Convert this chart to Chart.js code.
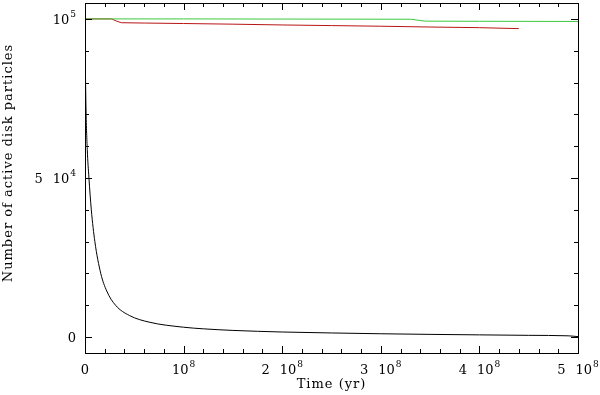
<!DOCTYPE html>
<html lang="en">
<head>
    <meta charset="UTF-8">
    <title>Active disk particles</title>
    <script src="https://cdn.jsdelivr.net/npm/chart.js"></script>
    <style>
        html, body { margin: 0; padding: 0; background: #fff; }
        #wrap { position: relative; width: 600px; height: 395px; }
    </style>
</head>
<body>
    <div id="wrap"><canvas id="particlesChart"></canvas></div>

    <script>
        // Number of active disk particles vs time (yr)
        const blackTime = [0, 3e5, 1e6, 2.3e6, 4e6, 6.4e6, 1e7, 1.6e7, 2.2e7, 3.1e7, 4.5e7, 6.5e7,
                           1e8, 1.2e8, 1.5e8, 2e8, 2.5e8, 3e8, 3.5e8, 4e8, 4.5e8, 4.9e8, 5e8];
        const blackCount = [100000, 88000, 72000, 59000, 50000, 40000, 30000, 20000, 14500, 10000, 6800, 4700,
                            3100, 2600, 2100, 1600, 1300, 1050, 850, 700, 550, 400, 150];

        const greenTime = [0, 1e8, 2e8, 3.3e8, 3.45e8, 4e8, 5e8];
        const greenCount = [100000, 100000, 99950, 99900, 99300, 99250, 99200];

        const redTime = [0, 2.7e7, 3.2e7, 3.7e7, 6e7, 1e8, 1.5e8, 2e8, 2.5e8, 3e8, 3.5e8, 4e8, 4.4e8];
        const redCount = [100000, 100000, 99300, 98800, 98700, 98550, 98350, 98100, 97900, 97700, 97450, 97250, 96950];

        const xTickValues = [0, 1e8, 2e8, 3e8, 4e8, 5e8];
        const xTickLabels = ["0", "10^8", "2 10^8", "3 10^8", "4 10^8", "5 10^8"];
        const yTickValues = [0, 5e4, 1e5];
        const yTickLabels = ["0", "5 10^4", "10^5"];

        const xTitle = "Time (yr)";
        const yTitle = "Number of active disk particles";

        function toPoints(xs, ys) {
            return xs.map((x, i) => ({ x: x, y: ys[i] }));
        }

        const FONT = '"DejaVu Serif", serif';

        function labelWidth(ctx, label) {
            let w = 0;
            const parts = label.split(" ");
            parts.forEach((p, i) => {
                const [base, sup] = p.split("^");
                ctx.font = "13px " + FONT;
                w += ctx.measureText(base).width;
                if (sup) {
                    ctx.font = "9px " + FONT;
                    w += 1 + ctx.measureText(sup).width;
                }
                if (i < parts.length - 1) w += 10;
            });
            return w;
        }

        // draws "2 10^8" style labels with a raised exponent
        function drawLabel(ctx, label, x, baseline) {
            const parts = label.split(" ");
            ctx.textAlign = "left";
            ctx.textBaseline = "alphabetic";
            parts.forEach((p, i) => {
                const [base, sup] = p.split("^");
                ctx.font = "13px " + FONT;
                ctx.fillText(base, x, baseline);
                x += ctx.measureText(base).width;
                if (sup) {
                    ctx.font = "9px " + FONT;
                    ctx.fillText(sup, x + 1, baseline - 7);
                    x += 1 + ctx.measureText(sup).width;
                }
                if (i < parts.length - 1) x += 10;
            });
        }

        const framePlugin = {
            id: "frame",
            afterDraw(chart) {
                const ctx = chart.ctx;
                const a = chart.chartArea;
                const xs = chart.scales.x;
                const ys = chart.scales.y;
                ctx.save();
                ctx.strokeStyle = "#000";
                ctx.fillStyle = "#000";
                ctx.lineWidth = 1;
                ctx.strokeRect(Math.round(a.left) + 0.5, Math.round(a.top) + 0.5,
                    Math.round(a.right - a.left), Math.round(a.bottom - a.top));

                // x ticks (inward, top and bottom)
                ctx.beginPath();
                for (let v = 0; v <= xs.max + 1; v += 2e7) {
                    const px = Math.round(xs.getPixelForValue(v)) + 0.5;
                    const len = (v % 1e8 === 0) ? 7 : 4;
                    ctx.moveTo(px, a.bottom); ctx.lineTo(px, a.bottom - len);
                    ctx.moveTo(px, a.top); ctx.lineTo(px, a.top + len);
                }
                // y ticks (inward, left and right)
                for (let v = 0; v <= ys.max; v += 1e4) {
                    const py = Math.round(ys.getPixelForValue(v)) + 0.5;
                    const len = (v % 5e4 === 0) ? 7 : 4;
                    ctx.moveTo(a.left, py); ctx.lineTo(a.left + len, py);
                    ctx.moveTo(a.right, py); ctx.lineTo(a.right - len, py);
                }
                ctx.stroke();

                xTickValues.forEach((v, i) => {
                    const px = xs.getPixelForValue(v);
                    const w = labelWidth(ctx, xTickLabels[i]);
                    drawLabel(ctx, xTickLabels[i], px - w / 2, a.bottom + 21);
                });
                yTickValues.forEach((v, i) => {
                    const py = ys.getPixelForValue(v);
                    const w = labelWidth(ctx, yTickLabels[i]);
                    drawLabel(ctx, yTickLabels[i], a.left - 9 - w, py + 5);
                });

                ctx.font = "13px " + FONT;
                ctx.letterSpacing = "1px";
                ctx.textAlign = "center";
                ctx.fillText(xTitle, (a.left + a.right) / 2, 388);

                ctx.translate(12, 163);
                ctx.rotate(-Math.PI / 2);
                ctx.fillText(yTitle, 0, 0);
                ctx.restore();
            }
        };

        new Chart(document.getElementById("particlesChart"), {
            type: "line",
            data: {
                datasets: [
                    {
                        label: "all",
                        data: toPoints(blackTime, blackCount),
                        borderColor: "#000000",
                        cubicInterpolationMode: "monotone",
                        order: 0
                    },
                    {
                        label: "green",
                        data: toPoints(greenTime, greenCount),
                        borderColor: "#3cc83c",
                        order: 1
                    },
                    {
                        label: "red",
                        data: toPoints(redTime, redCount),
                        borderColor: "#b81414",
                        order: 2
                    }
                ]
            },
            options: {
                responsive: true,
                maintainAspectRatio: false,
                animation: false,
                events: [],
                layout: { padding: { left: 85, right: 22, top: 3, bottom: 42 } },
                elements: {
                    line: { borderWidth: 1, tension: 0, fill: false },
                    point: { radius: 0 }
                },
                scales: {
                    x: { type: "linear", min: 0, max: 5e8, display: false },
                    y: { type: "linear", min: -5000, max: 105000, display: false }
                },
                plugins: {
                    legend: { display: false },
                    tooltip: { enabled: false }
                }
            },
            plugins: [framePlugin]
        });
    </script>
</body>
</html>
